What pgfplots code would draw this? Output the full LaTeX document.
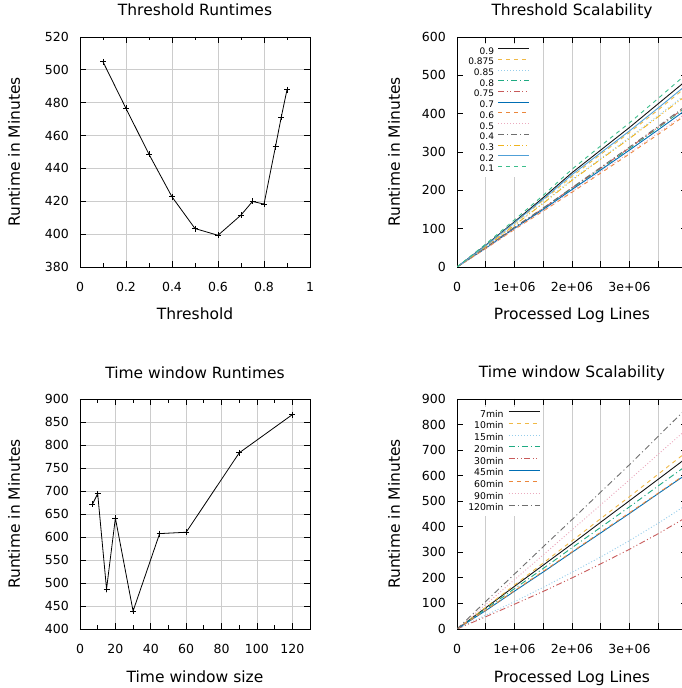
\documentclass[border=0pt]{standalone}
\usepackage{fontspec}
\setmainfont{DejaVu Sans}
\usepackage{pgfplots}
\pgfplotsset{compat=1.18}
\definecolor{c1}{RGB}{20,20,20}
\definecolor{c2}{RGB}{240,185,70}
\definecolor{c3}{RGB}{150,205,235}
\definecolor{c4}{RGB}{30,170,130}
\definecolor{c5}{RGB}{200,90,90}
\definecolor{c6}{RGB}{0,110,180}
\definecolor{c7}{RGB}{235,135,60}
\definecolor{c8}{RGB}{235,170,190}
\definecolor{c9}{RGB}{110,110,110}
\definecolor{c10}{RGB}{240,180,30}
\definecolor{c11}{RGB}{80,160,215}
\definecolor{c12}{RGB}{60,190,140}
\tikzset{
  dsh/.style={dash pattern=on 4pt off 4pt},
  dtt/.style={dash pattern=on 1pt off 2pt},
  ddt/.style={dash pattern=on 6pt off 3pt on 1pt off 3pt},
  dddt/.style={dash pattern=on 6pt off 2.5pt on 1pt off 2.5pt on 1pt off 2.5pt},
}
\pgfplotsset{
  myaxis/.style={
    scale only axis, width=230pt, height=230pt,
    axis line style={line width=0.8pt},
    every tick/.style={black, line width=0.8pt},
    major tick length=6pt, minor tick length=3.5pt,
    tick align=inside,
    grid style={gray!40, line width=0.8pt},
    tick label style={font=\fontsize{12.5}{14}\selectfont},
    /pgf/number format/assume math mode=true,
    label style={font=\fontsize{15.5}{18}\selectfont},
    title style={font=\fontsize{15.5}{18}\selectfont, at={(axis description cs:0.5,1)}, anchor=base, yshift=15pt},
    xlabel style={at={(axis description cs:0.5,0)}, anchor=base, yshift=-53pt},
    xticklabel style={anchor=north, inner sep=0pt, yshift=-15pt},
    yticklabel style={anchor=east, inner sep=0pt, xshift=-11pt},
    scaled ticks=false,
  },
  leftaxis/.style={myaxis, xmajorgrids, ymajorgrids, minor x tick num=1,
    ylabel style={at={(axis description cs:-0.261,0.5)}, anchor=base}},
  rightaxis/.style={myaxis, xmajorgrids, no marks,
    xmin=0, xmax=4000000,
    xtick={0,500000,1000000,1500000,2000000,2500000,3000000,3500000},
    xticklabels={0,,1e+06,,2e+06,,3e+06,},
    ylabel style={at={(axis description cs:-0.248,0.5)}, anchor=base},
    legend plot pos=right, legend cell align=right,
    legend image code/.code={\draw[##1] (0pt,3pt) -- (31pt,3pt);},
    every axis plot/.append style={line width=0.9pt},
  },
}
\begin{document}
\begin{tikzpicture}
% ---------- Threshold Runtimes ----------
\begin{axis}[leftaxis, at={(80pt,421pt)}, anchor=south west,
  title={Threshold Runtimes}, xlabel={Threshold}, ylabel={Runtime in Minutes},
  xmin=0, xmax=1, ymin=380, ymax=520,
  xtick={0,0.2,0.4,0.6,0.8,1}, ytick={380,400,420,440,460,480,500,520}]
\addplot[black, line width=0.8pt, mark=+, mark size=3pt] coordinates {
(0.1,504.9) (0.2,476.5) (0.3,448.6) (0.4,422.7) (0.5,403.4) (0.6,399.3)
(0.7,411.6) (0.75,419.9) (0.8,418.3) (0.85,453.3) (0.875,471.2) (0.9,487.9)};
\end{axis}
% ---------- Threshold Scalability ----------
\begin{axis}[rightaxis, at={(457pt,421pt)}, anchor=south west,
  title={Threshold Scalability}, xlabel={Processed Log Lines}, ylabel={Runtime in Minutes},
  ymin=0, ymax=600, ytick={0,100,200,300,400,500,600},
  legend style={at={(axis description cs:0.035,1)}, anchor=north west, yshift=-7pt,
    draw=none, fill=white, font=\fontsize{9}{10}\selectfont, inner sep=3pt, row sep=1.7pt,
    nodes={inner sep=0pt, text height=7pt, text depth=2pt},
    /tikz/every odd column/.append style={column sep=4pt}}]
\addplot[c1] coordinates {(0,0) (500000,57) (1000000,118) (1500000,181) (2000000,246) (2500000,305) (3000000,364) (3500000,426) (4000000,488)};
\addlegendentry{0.9}
\addplot[c2, dsh] coordinates {(0,0) (500000,55) (1000000,114) (1500000,174) (2000000,236) (2500000,294) (3000000,351) (3500000,410) (4000000,471)};
\addlegendentry{0.875}
\addplot[c3, dtt] coordinates {(0,0) (500000,54) (1000000,110) (1500000,168) (2000000,229) (2500000,283) (3000000,338) (3500000,395) (4000000,453)};
\addlegendentry{0.85}
\addplot[c4, ddt] coordinates {(0,0) (500000,50) (1000000,102) (1500000,153) (2000000,205) (2500000,257) (3000000,309) (3500000,363) (4000000,418)};
\addlegendentry{0.8}
\addplot[c5, dddt] coordinates {(0,0) (500000,50) (1000000,103) (1500000,153) (2000000,206) (2500000,258) (3000000,311) (3500000,365) (4000000,420)};
\addlegendentry{0.75}
\addplot[c6] coordinates {(0,0) (500000,49) (1000000,101) (1500000,150) (2000000,202) (2500000,253) (3000000,305) (3500000,358) (4000000,412)};
\addlegendentry{0.7}
\addplot[c7, dsh] coordinates {(0,0) (500000,48) (1000000,98) (1500000,146) (2000000,195) (2500000,245) (3000000,295) (3500000,346) (4000000,399)};
\addlegendentry{0.6}
\addplot[c8, dtt] coordinates {(0,0) (500000,48) (1000000,99) (1500000,147) (2000000,197) (2500000,248) (3000000,298) (3500000,350) (4000000,403)};
\addlegendentry{0.5}
\addplot[c9, ddt] coordinates {(0,0) (500000,51) (1000000,104) (1500000,154) (2000000,207) (2500000,260) (3000000,313) (3500000,367) (4000000,423)};
\addlegendentry{0.4}
\addplot[c10, dddt] coordinates {(0,0) (500000,53) (1000000,109) (1500000,166) (2000000,226) (2500000,281) (3000000,335) (3500000,392) (4000000,449)};
\addlegendentry{0.3}
\addplot[c11] coordinates {(0,0) (500000,56) (1000000,116) (1500000,177) (2000000,241) (2500000,298) (3000000,355) (3500000,415) (4000000,476)};
\addlegendentry{0.2}
\addplot[c12, dsh] coordinates {(0,0) (500000,60) (1000000,123) (1500000,187) (2000000,255) (2500000,316) (3000000,376) (3500000,440) (4000000,505)};
\addlegendentry{0.1}
\end{axis}
% ---------- Time window Runtimes ----------
\begin{axis}[leftaxis, at={(80pt,59pt)}, anchor=south west,
  title={Time window Runtimes}, xlabel={Time window size}, ylabel={Runtime in Minutes},
  xmin=0, xmax=130, ymin=400, ymax=900,
  xtick={0,20,40,60,80,100,120}, ytick={400,450,500,550,600,650,700,750,800,850,900}]
\addplot[black, line width=0.8pt, mark=+, mark size=3pt] coordinates {
(7,671) (10,694) (15,487) (20,641) (30,439) (45,607.4) (60,610.3) (90,783) (120,866)};
\end{axis}
% ---------- Time window Scalability ----------
\begin{axis}[rightaxis, at={(457pt,59pt)}, anchor=south west,
  title={Time window Scalability}, xlabel={Processed Log Lines}, ylabel={Runtime in Minutes},
  ymin=0, ymax=900, ytick={0,100,200,300,400,500,600,700,800,900},
  legend style={at={(axis description cs:0.035,1)}, anchor=north west, yshift=-8pt,
    draw=none, fill=white, font=\fontsize{9.3}{10}\selectfont, inner sep=3pt, row sep=2.7pt,
    nodes={inner sep=0pt, text height=7pt, text depth=2pt},
    /tikz/every odd column/.append style={column sep=5pt}}]
\addplot[c1] coordinates {(0,0) (500000,83) (1000000,167) (1500000,250) (2000000,333) (2500000,418) (3000000,502) (3500000,586) (4000000,671)};
\addlegendentry{7min}
\addplot[c2, dsh] coordinates {(0,0) (500000,85) (1000000,172) (1500000,258) (2000000,345) (2500000,432) (3000000,518) (3500000,606) (4000000,694)};
\addlegendentry{10min}
\addplot[c3, dtt] coordinates {(0,0) (500000,54) (1000000,107) (1500000,163) (2000000,222) (2500000,282) (3000000,346) (3500000,414) (4000000,487)};
\addlegendentry{15min}
\addplot[c4, ddt] coordinates {(0,0) (500000,78) (1000000,158) (1500000,237) (2000000,318) (2500000,398) (3000000,478) (3500000,560) (4000000,641)};
\addlegendentry{20min}
\addplot[c5, dddt] coordinates {(0,0) (500000,48) (1000000,97) (1500000,147) (2000000,200) (2500000,255) (3000000,312) (3500000,373) (4000000,439)};
\addlegendentry{30min}
\addplot[c6] coordinates {(0,0) (500000,72) (1000000,148) (1500000,223) (2000000,300) (2500000,376) (3000000,452) (3500000,530) (4000000,607)};
\addlegendentry{45min}
\addplot[c7, dsh] coordinates {(0,0) (500000,74) (1000000,150) (1500000,226) (2000000,302) (2500000,379) (3000000,455) (3500000,532) (4000000,610)};
\addlegendentry{60min}
\addplot[c8, dtt] coordinates {(0,0) (500000,96) (1000000,193) (1500000,290) (2000000,388) (2500000,486) (3000000,584) (3500000,684) (4000000,783)};
\addlegendentry{90min}
\addplot[c9, ddt] coordinates {(0,0) (500000,108) (1000000,215) (1500000,322) (2000000,428) (2500000,536) (3000000,643) (3500000,754) (4000000,866)};
\addlegendentry{120min}
\end{axis}
\pgfresetboundingbox
\path[use as bounding box] (0pt,0pt) rectangle (682pt,688pt);
\end{tikzpicture}
\end{document}
